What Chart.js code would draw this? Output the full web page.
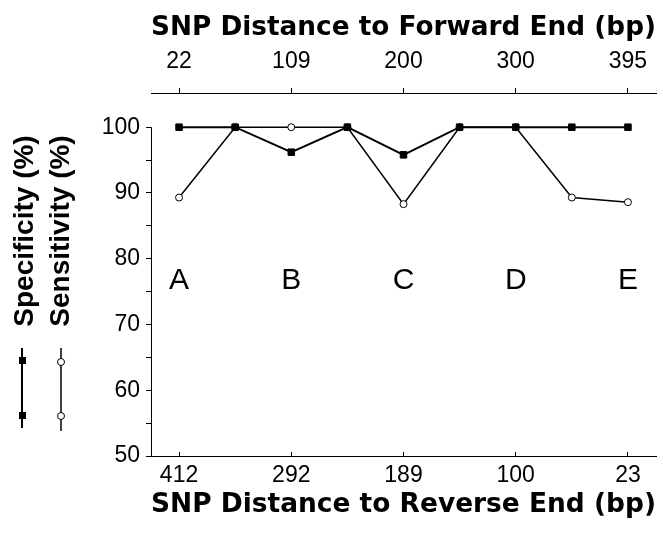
<!DOCTYPE html>
<html>
<head>
<meta charset="utf-8">
<script src="https://cdn.jsdelivr.net/npm/chart.js@4/dist/chart.umd.min.js"></script>
<style>
  html, body { margin: 0; padding: 0; background: #fff; }
  #wrap { width: 663px; height: 540px; }
</style>
</head>
<body>
<div id="wrap"><canvas id="snpChart"></canvas></div>
<script>
// values, one per primer position
const forwardLabels = ['22', '', '109', '', '200', '', '300', '', '395'];
const reverseLabels = ['412', '', '292', '', '189', '', '100', '', '23'];
const specificity = [100, 100, 96.2, 100, 95.8, 100, 100, 100, 100];
const sensitivity = [89.3, 100, 100, 100, 88.3, 100, 100, 89.3, 88.6];
const regionLabels = ['A', 'B', 'C', 'D', 'E'];
const yTicks = [50, 55, 60, 65, 70, 75, 80, 85, 90, 95, 100];

const tickFont = { family: 'Liberation Sans', size: 23 };
const titleFont = { family: 'DejaVu Sans', size: 27, weight: 'bold' };

function toPoints(values) {
    return values.map((v, i) => ({ x: i, y: v }));
}

function labelledTicks(scale, labels) {
    const ticks = [];
    labels.forEach((lab, i) => {
        if (lab !== '') ticks.push({ value: i });
    });
    scale.ticks = ticks;
}

const extras = {
    id: 'extras',
    afterDraw(chart) {
        const ctx = chart.ctx;
        const x = chart.scales.x;
        const y = chart.scales.y;
        ctx.save();

        // left axis line only spans 50..100
        ctx.strokeStyle = '#000';
        ctx.lineWidth = 1;
        ctx.beginPath();
        ctx.moveTo(x.left + 0.5, y.getPixelForValue(100));
        ctx.lineTo(x.left + 0.5, y.getPixelForValue(50));
        ctx.stroke();

        // region letters
        ctx.fillStyle = '#000';
        ctx.font = '30px "Liberation Sans"';
        ctx.textAlign = 'center';
        ctx.textBaseline = 'middle';
        regionLabels.forEach((lab, i) => {
            ctx.fillText(lab, x.getPixelForValue(i * 2), y.getPixelForValue(76.6));
        });

        // rotated legend
        ctx.font = 'bold 28px "Liberation Sans"';
        const names = [chart.data.datasets[0].label, chart.data.datasets[1].label];
        const cols = [25, 61];
        names.forEach((name, k) => {
            ctx.save();
            ctx.translate(cols[k], 231);
            ctx.rotate(-Math.PI / 2);
            ctx.fillText(name, 0, 0);
            ctx.restore();
        });

        // legend line symbols
        ctx.lineWidth = 2;
        ctx.beginPath();
        ctx.moveTo(22, 348);
        ctx.lineTo(22, 428);
        ctx.stroke();
        ctx.fillRect(19, 357, 7, 7);
        ctx.fillRect(19, 412, 7, 7);

        ctx.lineWidth = 1.5;
        ctx.beginPath();
        ctx.moveTo(61, 348);
        ctx.lineTo(61, 431);
        ctx.stroke();
        ctx.lineWidth = 1;
        [362, 416].forEach(cy => {
            ctx.beginPath();
            ctx.arc(61, cy, 3.5, 0, Math.PI * 2);
            ctx.fillStyle = '#fff';
            ctx.fill();
            ctx.stroke();
        });

        ctx.restore();
    }
};

const whiteBg = {
    id: 'whiteBg',
    beforeDraw(chart) {
        const ctx = chart.ctx;
        ctx.save();
        ctx.fillStyle = '#fff';
        ctx.fillRect(0, 0, chart.width, chart.height);
        ctx.restore();
    }
};

new Chart(document.getElementById('snpChart'), {
    type: 'line',
    data: {
        datasets: [{
            label: 'Specificity (%)',
            data: toPoints(specificity),
            borderColor: '#000',
            borderWidth: 2,
            pointStyle: 'rect',
            pointRadius: 4.6,
            pointBackgroundColor: '#000',
            pointBorderColor: '#000',
            pointBorderWidth: 1,
            tension: 0,
            clip: false
        }, {
            label: 'Sensitivity (%)',
            data: toPoints(sensitivity),
            borderColor: '#000',
            borderWidth: 1.5,
            pointStyle: 'circle',
            pointRadius: 3.5,
            pointBackgroundColor: '#fff',
            pointBorderColor: '#000',
            pointBorderWidth: 1,
            tension: 0,
            clip: false
        }]
    },
    options: {
        responsive: true,
        maintainAspectRatio: false,
        animation: false,
        layout: { padding: { left: 0, right: 7, top: 0, bottom: 0 } },
        plugins: {
            legend: { display: false },
            tooltip: { enabled: false }
        },
        scales: {
            x: {
                type: 'linear',
                position: 'bottom',
                min: -0.5,
                max: 8.5,
                afterBuildTicks: scale => labelledTicks(scale, reverseLabels),
                afterFit: scale => { scale.height = 84; },
                ticks: {
                    color: '#000',
                    font: tickFont,
                    padding: 10,
                    maxRotation: 0,
                    callback: v => reverseLabels[v]
                },
                grid: { drawOnChartArea: false, tickLength: -4, color: '#000' },
                border: { color: '#000', width: 1 },
                title: {
                    display: true,
                    text: 'SNP Distance to Reverse End (bp)',
                    color: '#000',
                    font: titleFont,
                    padding: { top: 0, bottom: 19 }
                }
            },
            x2: {
                type: 'linear',
                position: 'top',
                min: -0.5,
                max: 8.5,
                afterBuildTicks: scale => labelledTicks(scale, forwardLabels),
                afterFit: scale => { scale.height = 93; },
                ticks: {
                    color: '#000',
                    font: tickFont,
                    padding: 13,
                    maxRotation: 0,
                    callback: v => forwardLabels[v]
                },
                grid: { drawOnChartArea: false, tickLength: 5, color: '#000' },
                border: { color: '#000', width: 1 },
                title: {
                    display: true,
                    text: 'SNP Distance to Forward End (bp)',
                    color: '#000',
                    font: titleFont,
                    padding: { top: 12, bottom: 0 }
                }
            },
            y: {
                min: 50,
                max: 105.2,
                afterBuildTicks: scale => { scale.ticks = yTicks.map(v => ({ value: v })); },
                afterFit: scale => { scale.width = 151; },
                ticks: {
                    color: '#000',
                    font: tickFont,
                    padding: 6,
                    callback: v => (v % 10 === 0 ? v : '')
                },
                grid: { drawOnChartArea: false, tickLength: 5, color: '#000' },
                border: { display: false }
            }
        }
    },
    plugins: [whiteBg, extras]
});
</script>
</body>
</html>
